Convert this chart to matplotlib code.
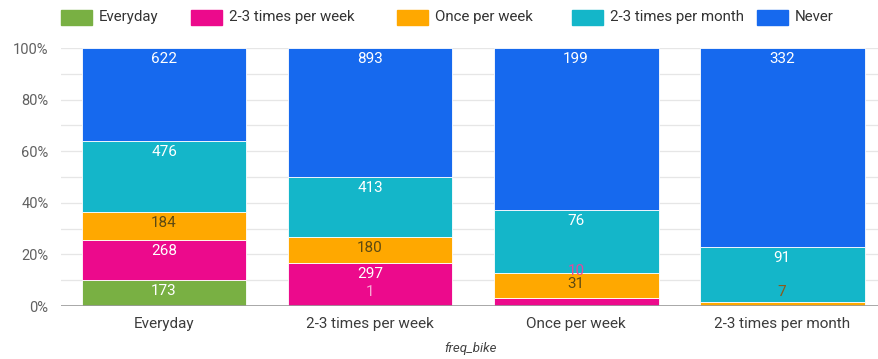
import numpy as np
import matplotlib
matplotlib.use("Agg")
import matplotlib.pyplot as plt
from matplotlib.patches import Rectangle

plt.rcParams["font.family"] = ["Roboto", "DejaVu Sans"]

# data
categories = ["Everyday", "2-3 times per week", "Once per week", "2-3 times per month"]
series = ["Everyday", "2-3 times per week", "Once per week", "2-3 times per month", "Never"]

everyday = [173, 1, 0, 0]
per_week_2_3 = [268, 297, 10, 0]
once_week = [184, 180, 31, 7]
per_month_2_3 = [476, 413, 76, 91]
never = [622, 893, 199, 332]

colors = ["#79b043", "#ec0a8c", "#ffa800", "#14b6c9", "#1669ee"]
label_colors = ["#ffffff", "#ffffff", "#5e4a12", "#ffffff", "#ffffff"]
# colour used when a segment is too thin to hold its label
small_label_colors = ["#f7a8d4", "#e04a9c", "#8a5a1c", "#ffffff", "#ffffff"]

values = np.array([everyday, per_week_2_3, once_week, per_month_2_3, never], dtype=float)
totals = values.sum(axis=0)
shares = values / totals

fig = plt.figure(figsize=(8.79, 3.59), dpi=100)
ax = fig.add_axes([61 / 879, 53 / 359, 1 - 61 / 879, 258 / 359])

x = np.arange(len(categories))
bottom = np.zeros(len(categories))
for i, name in enumerate(series):
    ax.bar(x, shares[i], bottom=bottom, width=0.8, color=colors[i],
           edgecolor="white", linewidth=0.6, zorder=3)
    bottom += shares[i]

ax.set_xlim(-0.5, 3.47)
ax.set_ylim(0, 1)

# grid
ax.set_yticks(np.arange(0, 1.01, 0.2))
ax.set_yticks(np.arange(0.1, 1.0, 0.2), minor=True)
ax.set_yticklabels([f"{int(round(v * 100))}%" for v in np.arange(0, 1.01, 0.2)])
ax.grid(axis="y", which="both", color="#e6e6e6", linewidth=0.9, zorder=0)
ax.axhline(0, color="#9a9a9a", linewidth=1.2, zorder=4)
for s in ax.spines.values():
    s.set_visible(False)
ax.tick_params(axis="y", which="both", length=0, pad=9, labelsize=10.5, labelcolor="#616161")
ax.tick_params(axis="x", length=0, pad=8, labelsize=11, labelcolor="#3c3c3c")
ax.set_xticks(x)
ax.set_xticklabels(categories)
ax.set_xlabel("freq_bike", style="italic", fontsize=9.5, color="#444444", labelpad=8)

# value labels (near top of each segment)
px_h = 258.0
offset = 11 / px_h
floor = 14 / px_h
gap = 13 / px_h
for j in range(len(categories)):
    tops = np.cumsum(shares[:, j])
    prev = None
    for i in range(len(series) - 1, -1, -1):
        if values[i, j] == 0:
            continue
        y = tops[i] - offset
        lc = label_colors[i]
        if y < floor:
            y = floor
            if prev is not None and prev - y < gap:
                y = prev + gap
        if shares[i, j] < 14 / px_h:
            lc = small_label_colors[i]
        ax.text(x[j], y, f"{int(values[i, j])}", ha="center", va="center",
                fontsize=11, color=lc, zorder=5)
        prev = y

# legend
leg_x = [61, 191, 397, 572, 757]
for i, name in enumerate(series):
    fig.patches.append(Rectangle((leg_x[i] / 879, (359 - 25) / 359), 31 / 879, 15 / 359,
                                 transform=fig.transFigure, color=colors[i]))
    fig.text((leg_x[i] + 38) / 879, (359 - 17) / 359, name, ha="left", va="center",
             fontsize=10.8, color="#333333")

fig.savefig("out.png", dpi=100)
